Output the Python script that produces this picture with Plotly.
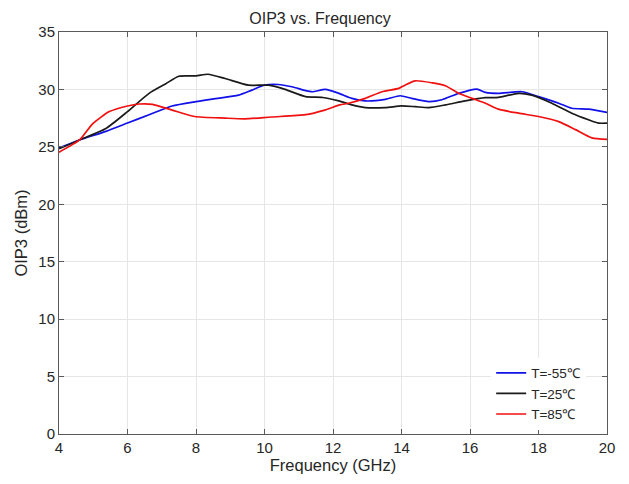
import plotly.graph_objects as go

# Frequency (GHz) and OIP3 (dBm)
f_m55 = [4.0, 4.6, 5.37, 6.0, 6.63, 7.3, 8.0, 8.57, 9.24, 9.63, 10.0, 10.4, 10.8, 11.2, 11.39, 11.78, 12.17, 12.55, 12.94, 13.53, 13.96, 14.3, 14.8, 15.18, 15.67, 16.2, 16.45, 16.83, 17.52, 18.0, 18.59, 18.97, 19.46, 20.0]
p_m55 = [24.9, 25.6, 26.35, 27.07, 27.8, 28.56, 28.94, 29.2, 29.5, 29.94, 30.37, 30.43, 30.23, 29.9, 29.8, 30.0, 29.66, 29.22, 29.0, 29.14, 29.45, 29.22, 28.94, 29.1, 29.66, 30.03, 29.74, 29.66, 29.8, 29.37, 28.8, 28.36, 28.28, 28.0]

f_25 = [4.0, 4.6, 5.37, 6.0, 6.63, 7.12, 7.5, 8.0, 8.35, 8.85, 9.53, 10.12, 10.6, 11.2, 11.7, 12.17, 12.55, 12.94, 13.53, 14.0, 14.4, 14.8, 15.28, 15.86, 16.45, 16.83, 17.42, 17.8, 18.39, 18.97, 19.46, 19.75, 20.0]
p_25 = [24.83, 25.6, 26.6, 28.07, 29.66, 30.5, 31.15, 31.18, 31.32, 30.95, 30.37, 30.37, 30.0, 29.37, 29.3, 29.0, 28.65, 28.42, 28.42, 28.56, 28.5, 28.42, 28.65, 29.0, 29.28, 29.31, 29.66, 29.5, 28.8, 27.93, 27.36, 27.07, 27.07]

f_85 = [4.0, 4.6, 4.98, 5.47, 6.0, 6.34, 6.73, 7.3, 7.96, 8.85, 9.43, 10.2, 11.2, 11.76, 12.2, 12.46, 12.94, 13.43, 13.92, 14.1, 14.4, 14.9, 15.28, 15.67, 16.06, 16.45, 16.83, 17.42, 18.0, 18.59, 19.08, 19.56, 20.0]
p_85 = [24.54, 25.6, 27.0, 28.07, 28.56, 28.73, 28.7, 28.2, 27.64, 27.5, 27.44, 27.6, 27.8, 28.2, 28.65, 28.8, 29.22, 29.8, 30.09, 30.37, 30.75, 30.57, 30.32, 29.66, 29.22, 28.8, 28.28, 27.93, 27.64, 27.2, 26.5, 25.78, 25.65]

names = ["T=-55\u2103", "T=25\u2103", "T=85\u2103"]
colors = ["#1010e8", "#1a1a1a", "#f01010"]

FONT = "Liberation Sans, Arial, Helvetica, sans-serif"
TXT = "#262626"

fig = go.Figure()
for f, p, n, c in zip([f_m55, f_25, f_85], [p_m55, p_25, p_85], names, colors):
    fig.add_trace(go.Scatter(x=f, y=p, mode="lines", name=n,
                             line=dict(color=c, width=1.7, shape="spline", smoothing=0.6)))

axis_common = dict(showline=True, linecolor="#5a5a5a", linewidth=1, mirror="allticks",
                   ticks="inside", ticklen=5, tickcolor="#5a5a5a",
                   showgrid=True, gridcolor="#e6e6e6", gridwidth=1, zeroline=False,
                   tickfont=dict(family=FONT, size=15, color=TXT))

# page body has an 8px margin, so the figure is shrunk and margins offset by 8px
fig.update_layout(
    width=621, height=476,
    margin=dict(l=51, r=22, t=24, b=50),
    paper_bgcolor="white", plot_bgcolor="white",
    title=dict(text="OIP3 vs. Frequency", x=(320 - 8) / 621, xanchor="center",
               y=1 - (18 - 8) / 476, yanchor="middle",
               font=dict(family=FONT, size=16, color=TXT)),
    xaxis=dict(range=[4, 20], dtick=2, tick0=4,
               title=dict(text="Frequency (GHz)", font=dict(family=FONT, size=16.5, color=TXT), standoff=4),
               **axis_common),
    yaxis=dict(range=[0, 35], dtick=5, tick0=0,
               title=dict(text="OIP3 (dBm)", font=dict(family=FONT, size=16.5, color=TXT), standoff=6),
               **axis_common),
    legend=dict(x=0.962, xanchor="right", y=0.19, yanchor="top",
                bgcolor="white", borderwidth=0,
                font=dict(family=FONT, size=13.5, color=TXT),
                tracegroupgap=0),
    showlegend=True,
)

fig.write_html("out.html")
